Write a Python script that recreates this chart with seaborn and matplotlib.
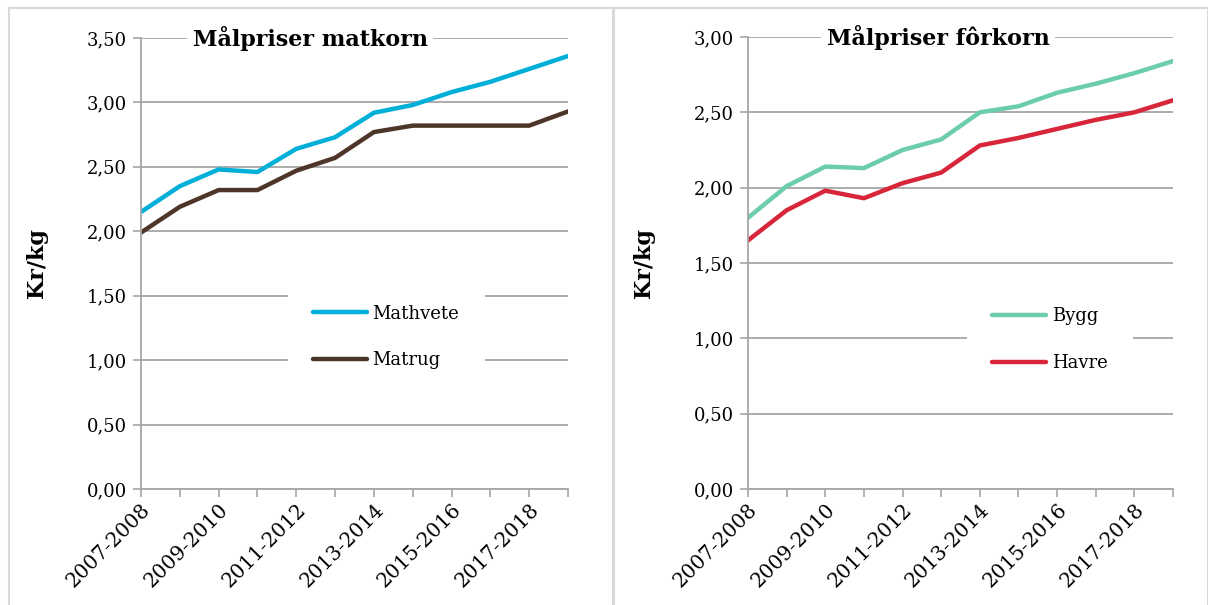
import matplotlib
matplotlib.use('Agg')
import matplotlib.pyplot as plt
import seaborn as sns
import pandas as pd
from matplotlib.patches import Rectangle

seasons = ['2007-2008', '2008-2009', '2009-2010', '2010-2011', '2011-2012', '2012-2013',
           '2013-2014', '2014-2015', '2015-2016', '2016-2017', '2017-2018', '2018-2019']
mathvete = [2.15, 2.35, 2.48, 2.46, 2.64, 2.73, 2.92, 2.98, 3.08, 3.16, 3.26, 3.36]
matrug = [1.99, 2.19, 2.32, 2.32, 2.47, 2.57, 2.77, 2.82, 2.82, 2.82, 2.82, 2.93]
bygg = [1.80, 2.01, 2.14, 2.13, 2.25, 2.32, 2.50, 2.54, 2.63, 2.69, 2.76, 2.84]
havre = [1.65, 1.85, 1.98, 1.93, 2.03, 2.10, 2.28, 2.33, 2.39, 2.45, 2.50, 2.58]

sns.set_style('white')
plt.rcParams['font.family'] = ['DejaVu Serif']
plt.rcParams['text.color'] = 'black'
plt.rcParams['axes.labelcolor'] = 'black'
plt.rcParams['xtick.labelcolor'] = 'black'
plt.rcParams['ytick.labelcolor'] = 'black'
GRID = '#a6a6a6'

fig = plt.figure(figsize=(12.08, 6.05), dpi=100)

# panel frames
for x0, x1 in [(9, 613), (614, 1208)]:
    fig.patches.append(Rectangle((x0 / 1208, -0.01), (x1 - x0) / 1208, (605 - 8) / 605 + 0.01,
                                 transform=fig.transFigure, fill=False,
                                 edgecolor='#d9d9d9', linewidth=1.5))


def panel(rect, s1, s2, n1, n2, c1, c2, ymax, title, tx, leg_xy):
    ax = fig.add_axes(rect)
    df = pd.DataFrame({'season': seasons * 2, 'pris': s1 + s2,
                       'sort': [n1] * len(seasons) + [n2] * len(seasons)})
    sns.lineplot(data=df, x='season', y='pris', hue='sort', palette=[c1, c2],
                 linewidth=3.2, ax=ax, sort=False)
    ax.set_xlim(0, len(seasons) - 1)
    ax.set_ylim(0, ymax)
    yt = [i * 0.5 for i in range(int(ymax / 0.5) + 1)]
    ax.set_yticks(yt)
    ax.set_yticklabels([f'{v:.2f}'.replace('.', ',') for v in yt], fontsize=13)
    ax.set_xticks(range(len(seasons)))
    ax.set_xticklabels([s if i % 2 == 0 else '' for i, s in enumerate(seasons)],
                       rotation=45, ha='right', rotation_mode='anchor', fontsize=14.5)
    ax.tick_params(axis='both', direction='out', length=6, color=GRID, width=1.2,
                   left=True, bottom=True)
    ax.tick_params(axis='y', pad=4)
    ax.tick_params(axis='x', pad=2)
    ax.grid(axis='y', color=GRID, linewidth=1.3)
    ax.set_axisbelow(True)
    for side in ['top', 'right']:
        ax.spines[side].set_visible(False)
    for side in ['left', 'bottom']:
        ax.spines[side].set_color(GRID)
        ax.spines[side].set_linewidth(1.3)
    ax.set_xlabel('')
    ax.set_ylabel('Kr/kg', fontsize=16, fontweight='bold', labelpad=28)
    ax.text(tx, 1.0, title, transform=ax.transAxes, ha='center', va='center',
            fontsize=16, fontweight='bold',
            bbox=dict(facecolor='white', edgecolor='none', pad=4))
    leg = ax.legend(loc='center', bbox_to_anchor=leg_xy, frameon=True, fontsize=13,
                    handlelength=3.0, labelspacing=1.6, handletextpad=0.3,
                    borderpad=1.4, borderaxespad=0)
    leg.get_frame().set_facecolor('white')
    leg.get_frame().set_edgecolor('none')
    leg.get_frame().set_alpha(1)
    leg.set_zorder(5)
    return ax


panel([141 / 1208, 116 / 605, 427 / 1208, 451 / 605], mathvete, matrug,
      'Mathvete', 'Matrug', '#00afd8', '#4d3629', 3.5, 'Målpriser matkorn', 0.396,
      (0.574, 0.337))
panel([748 / 1208, 116 / 605, 425 / 1208, 452 / 605], bygg, havre,
      'Bygg', 'Havre', '#6ccdae', '#d7263a', 3.0, 'Målpriser fôrkorn', 0.447,
      (0.71, 0.33))

fig.savefig('out.png', dpi=100)
